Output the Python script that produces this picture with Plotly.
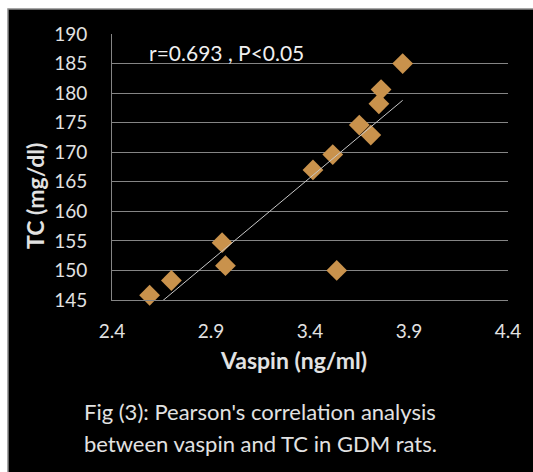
import numpy as np
import plotly.graph_objects as go

# Data
vaspin = [2.59, 2.70, 2.956, 2.973, 3.415, 3.515, 3.535, 3.649, 3.707, 3.748, 3.759, 3.868]
tc = [145.8, 148.3, 154.7, 150.8, 167.0, 169.6, 150.0, 174.6, 172.9, 178.2, 180.6, 185.0]
x_ticks = [2.4, 2.9, 3.4, 3.9, 4.4]
y_ticks = [145, 150, 155, 160, 165, 170, 175, 180, 185, 190]
stat_text = "r=0.693 , P<0.05"
caption_lines = ["Fig (3): Pearson's correlation analysis",
                 "between vaspin and TC in GDM rats."]

W, H = 533, 472
L, R, T, B = 112, 25, 34, 172
pw, ph = W - L - R, H - T - B

def px(x):
    return (x - L) / pw

def py(y):
    return (H - B - y) / ph

slope, intercept = np.polyfit(vaspin, tc, 1)
xfit = np.array([min(vaspin), max(vaspin)])
yfit = slope * xfit + intercept

FONT = "Lato"
TXT = "#e2e2e2"
GRID = "#858585"

fig = go.Figure()
fig.add_trace(go.Scatter(
    x=vaspin, y=tc, mode="markers",
    marker=dict(symbol="diamond", size=16, color="#C9924C", line=dict(width=0)),
    cliponaxis=False, showlegend=False, hoverinfo="skip"))
fig.add_trace(go.Scatter(
    x=xfit, y=yfit, mode="lines",
    line=dict(color="#c8c8c8", width=1),
    showlegend=False, hoverinfo="skip"))

fig.update_layout(
    width=W, height=H,
    margin=dict(l=L, r=R, t=T, b=B, pad=0),
    paper_bgcolor="white", plot_bgcolor="black",
    font=dict(family=FONT, color=TXT),
    xaxis=dict(range=[2.4, 4.4], tickvals=x_ticks, ticktext=[f"{v:.1f}" for v in x_ticks],
               showgrid=False, zeroline=False, showline=True, linecolor=GRID, linewidth=1,
               ticks="", ticklabelstandoff=14, tickfont=dict(size=19, color=TXT)),
    yaxis=dict(range=[145, 190], tickvals=y_ticks, ticktext=[str(v) for v in y_ticks],
               showgrid=True, gridcolor=GRID, gridwidth=1.3, zeroline=False,
               showline=True, linecolor=GRID, linewidth=1,
               ticks="", ticklabelstandoff=20, tickfont=dict(size=19, color=TXT)),
    shapes=[dict(type="rect", xref="paper", yref="paper", layer="below",
                 x0=px(8), x1=px(560), y0=py(500), y1=py(9),
                 fillcolor="black", line=dict(color="#8a8a8a", width=1.5))],
    annotations=[
        dict(text=stat_text, xref="paper", yref="paper", x=px(147), y=py(53),
             xanchor="left", yanchor="middle", showarrow=False,
             font=dict(size=21, color="#f0f0f0", family=FONT)),
        dict(text="<b>Vaspin (ng/ml)</b>", xref="paper", yref="paper", x=px(293), y=py(360),
             xanchor="center", yanchor="middle", showarrow=False,
             font=dict(size=23, color=TXT, family=FONT)),
        dict(text="<b>TC (mg/dl)</b>", xref="paper", yref="paper", x=px(35), y=py(196),
             xanchor="center", yanchor="middle", showarrow=False, textangle=-90,
             font=dict(size=23, color=TXT, family=FONT)),
        dict(text=caption_lines[0], xref="paper", yref="paper", x=px(82), y=py(411),
             xanchor="left", yanchor="middle", showarrow=False,
             font=dict(size=22, color=TXT, family=FONT)),
        dict(text=caption_lines[1], xref="paper", yref="paper", x=px(82), y=py(443),
             xanchor="left", yanchor="middle", showarrow=False,
             font=dict(size=22, color=TXT, family=FONT)),
    ],
)

fig.write_html("out.html")
